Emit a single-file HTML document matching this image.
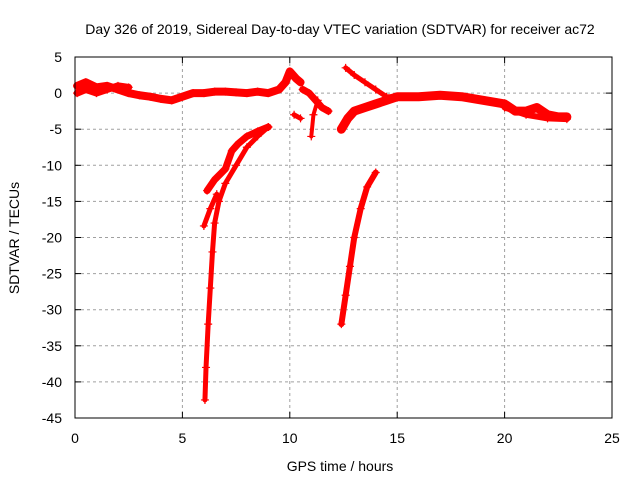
<!DOCTYPE html>
<html><head><meta charset="utf-8"><style>
body{margin:0;background:#fff}
svg{display:block;font-family:"Liberation Sans",sans-serif}
</style></head><body>
<svg id="c" width="640" height="480">
<text x="340" y="34" text-anchor="middle" font-size="14">Day 326 of 2019, Sidereal Day-to-day VTEC variation (SDTVAR) for receiver ac72</text>
<text x="340" y="471" text-anchor="middle" font-size="14">GPS time / hours</text>
<text transform="translate(19,238) rotate(-90)" text-anchor="middle" font-size="14">SDTVAR / TECUs</text>
<g id="grid"></g><g id="data"></g>
<rect x="75" y="57" width="537" height="361" fill="none" stroke="#000" stroke-width="1"/>
</svg>
<script>
const xTicks=[0,5,10,15,20,25];
const yTicks=[5,0,-5,-10,-15,-20,-25,-30,-35,-40,-45];
const mainBand=[[0.1,1],[0.5,1.5],[1,0.8],[1.5,1],[2,0.5],[2.5,0],[3,-0.3],[3.5,-0.5],[4,-0.8],[4.5,-1],[5,-0.5],[5.5,0],[6,0],[6.5,0.2],[7,0.2],[7.5,0.1],[8,0],[8.5,0.2],[9,0],[9.5,0.5],[9.8,1.5],[10,3],[10.3,2],[10.5,1.5]];
const band2=[[0.1,0],[0.5,0.5],[1,0],[1.5,0.5],[2,1],[2.5,0.8]];
const midPiece=[[10.6,0.5],[10.9,0],[11.2,-1],[11.5,-2],[11.8,-2.5]];
const dropPiece=[[11.3,-1],[11.1,-3],[11,-6]];
const blob=[[10.2,-3],[10.5,-3.5]];
const lateBand=[[12.4,-5],[12.7,-3.5],[13,-2.5],[13.5,-2],[14,-1.5],[14.5,-1],[15,-0.5],[16,-0.5],[17,-0.3],[18,-0.5],[19,-1],[20,-1.5],[20.5,-2.5],[21,-2.5],[21.5,-2],[22,-3],[22.5,-3.3],[22.9,-3.3]];
const lateBand2=[[20,-2],[21,-3],[22,-3.5],[22.9,-3.6]];
const upperArc=[[12.6,3.5],[13,2.5],[13.5,1.5],[14,0.5],[14.5,-0.5],[15,-0.5]];
const steepA=[[6.05,-42.5],[6.1,-38],[6.2,-32],[6.3,-27],[6.4,-22],[6.5,-18],[6.7,-15],[7,-12.5],[7.5,-10],[8,-7.5],[8.5,-6],[9,-4.7]];
const steepB=[[6,-18.4],[6.3,-16],[6.6,-14]];
const arcB=[[6.15,-13.5],[6.5,-12],[7,-10.5],[7.3,-8],[7.6,-7],[8,-6],[8.5,-5.3],[9,-4.7]];
const steepC=[[12.4,-32],[12.6,-28],[12.8,-24],[13,-20],[13.3,-16],[13.6,-13],[14,-11]];
const series=[mainBand,band2,midPiece,dropPiece,blob,lateBand,lateBand2,upperArc,steepA,steepB,arcB,steepC];
const widths=[8,7,7,4,5,9,6,5,5,5,7,6];
const X=v=>75+(v-0)/25*537, Y=v=>57+(5-v)/50*361;
const ns="http://www.w3.org/2000/svg";
const svg=document.getElementById('c'),g=document.getElementById('grid'),d=document.getElementById('data');
function mk(t,a,p){const e=document.createElementNS(ns,t);for(const k in a)e.setAttribute(k,a[k]);p.appendChild(e);return e;}
xTicks.forEach(t=>{const x=X(t);
 if(t>0&&t<25){const l=mk('line',{x1:x,x2:x,y1:57,y2:418,stroke:'#a0a0a0','stroke-dasharray':'3,3'},g);
 }
 mk('line',{x1:x,x2:x,y1:418,y2:412,stroke:'#000'},g);mk('line',{x1:x,x2:x,y1:57,y2:63,stroke:'#000'},g);
 const s=mk('text',{x:x,y:443,'text-anchor':'middle','font-size':14},g);s.textContent=t;
 });
yTicks.forEach(t=>{const y=Y(t);
 if(t<5&&t>-45){const l=mk('line',{x1:75,x2:612,y1:y,y2:y,stroke:'#a0a0a0','stroke-dasharray':'3,3'},g);
 }
 mk('line',{x1:75,x2:81,y1:y,y2:y,stroke:'#000'},g);mk('line',{x1:612,x2:606,y1:y,y2:y,stroke:'#000'},g);
 const s=mk('text',{x:62,y:y+5,'text-anchor':'end','font-size':14},g);s.textContent=t;
 });
series.forEach((pts,i)=>{
 const p=mk('polyline',{points:pts.map(q=>X(q[0])+','+Y(q[1])).join(' '),fill:'none',stroke:'#f00','stroke-width':widths[i],'stroke-linejoin':'round','stroke-linecap':'round'},d);
 
 pts.forEach(q=>{const x=X(q[0]),y=Y(q[1]);
  const m=mk('path',{d:`M${x-4},${y}H${x+4}M${x},${y-4}V${y+4}`,stroke:'#f00','stroke-width':1.2},d);
  });
});
</script>
</body></html>
